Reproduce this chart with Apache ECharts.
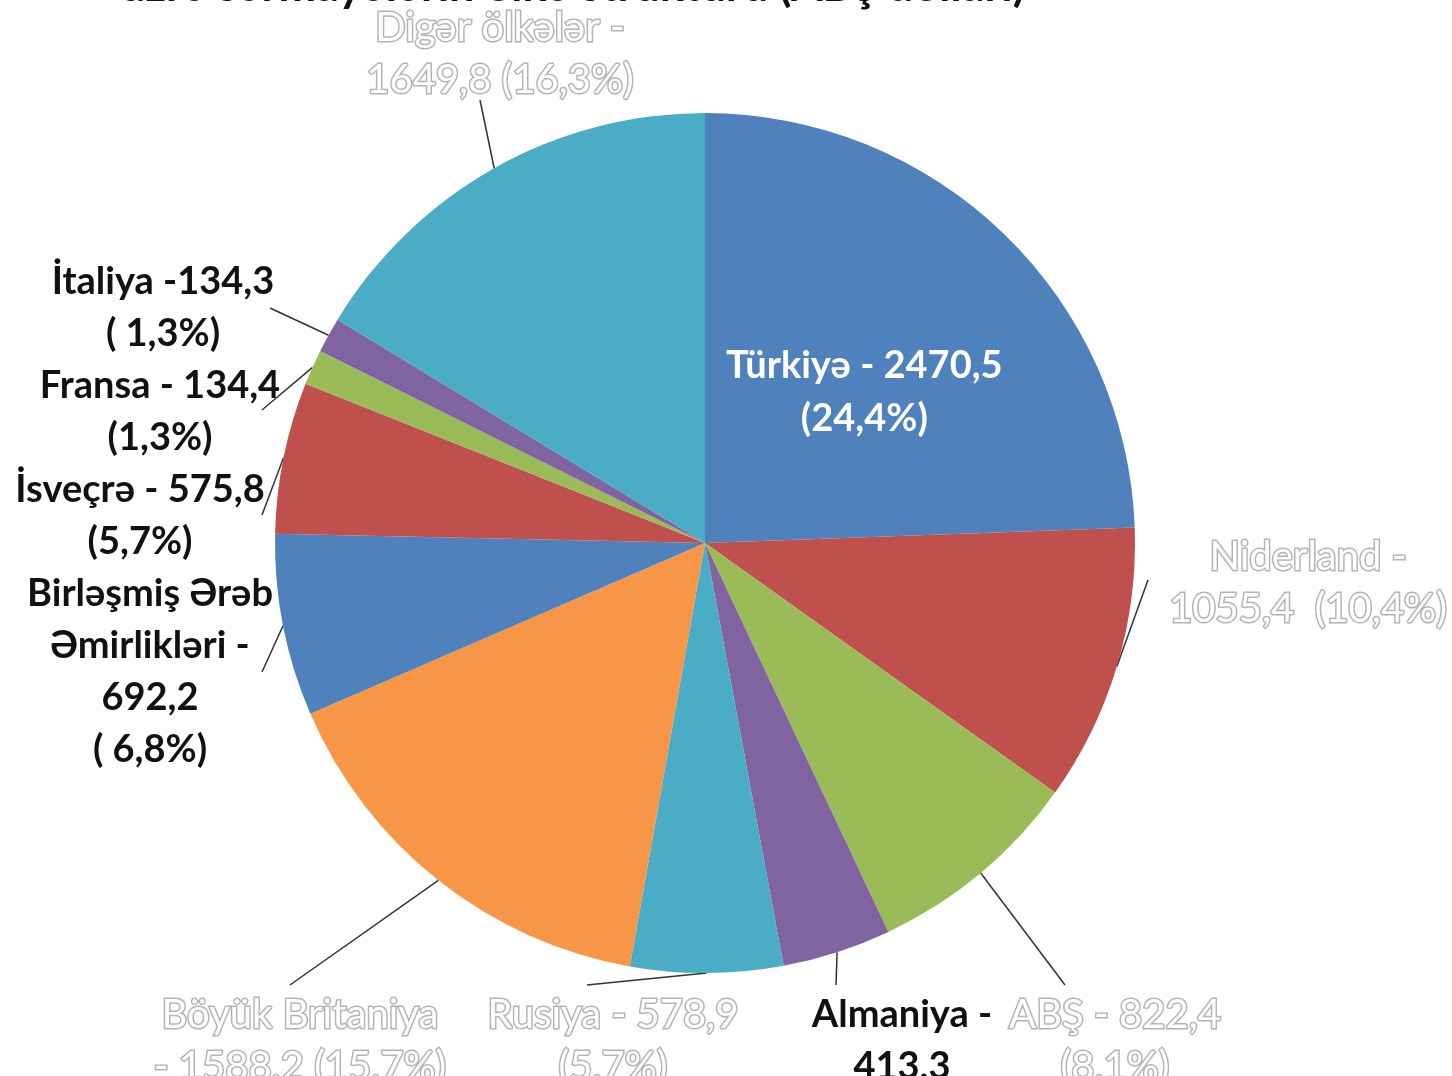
<!DOCTYPE html>
<html><head><meta charset="utf-8">
<script src="https://cdn.jsdelivr.net/npm/echarts@6/dist/echarts.min.js"></script>
<style>html,body{margin:0;padding:0;background:#fff}#c{width:1452px;height:1076px}</style>
</head><body><div id="c"></div>
<script>
const titleText = 'üzrə sərmayələrin ölkə strukturu (ABŞ dolları)';
const countries = ['Türkiyə','Niderland','ABŞ','Almaniya','Rusiya','Böyük Britaniya','Birləşmiş Ərəb Əmirlikləri','İsveçrə','Fransa','İtaliya','Digər ölkələr'];
const values = [2470.5, 1055.4, 822.4, 413.3, 578.9, 1588.2, 692.2, 575.8, 134.4, 134.3, 1649.8];
const labelTexts = [
  'Türkiyə - 2470,5\n(24,4%)',
  'Niderland -\n1055,4  (10,4%)',
  'ABŞ - 822,4\n(8,1%)',
  'Almaniya -\n413,3\n(4,1%)',
  'Rusiya - 578,9\n(5,7%)',
  'Böyük Britaniya\n- 1588,2 (15,7%)',
  'Birləşmiş Ərəb\nƏmirlikləri -\n692,2\n( 6,8%)',
  'İsveçrə - 575,8\n(5,7%)',
  'Fransa - 134,4\n(1,3%)',
  'İtaliya -134,3\n( 1,3%)',
  'Digər ölkələr -\n1649,8 (16,3%)'
];
const labelStyleKind = ['inside','hollow','hollow','bold','hollow','hollow','bold','bold','bold','bold','hollow'];
const colors = ['#4F81BD','#C0504D','#9BBB59','#8064A2','#4BACC6','#F79646','#4F81BD','#C0504D','#9BBB59','#8064A2','#4BACC6'];

// label anchor (center x, top y) and leader-line end points
const labelPos = [null,[1308,531],[1115,989],[902,989],[613,989],[300,989],[150,568],[140,464],[160,360],[163,256],[500,2]];
const lineEnds = [null,[1148,580],[1065,985],[836,985],[587,985],[290,985],[262,672],[262,515],[262,410],[270,308],[480,100]];

const FONT = 'Lato, "Open Sans", sans-serif';
const styles = {
  inside: {color:'#fff', fontWeight:'bold', fontSize:38, lineHeight:53, fontFamily:FONT, position:'inside', offset:[8,6]},
  bold: {color:'#111', fontWeight:'bold', fontSize:38, lineHeight:52, fontFamily:FONT},
  hollow: {color:'#fff', fontWeight:'normal', fontSize:40, lineHeight:52, fontFamily:FONT, textBorderColor:'#b4b4b4', textBorderWidth:3}
};

const data = countries.map((n,i)=>({
  name:n, value:values[i],
  itemStyle:{color:colors[i]},
  label: Object.assign({formatter: labelTexts[i], overflow:'none', width:null}, styles[labelStyleKind[i]]),
  labelLine:{show: i!==0}
}));

const chart = echarts.init(document.getElementById('c'));
chart.setOption({
  backgroundColor:'#fff',
  animation:false,
  graphic:[{type:'text', left:120, top:-36, style:{text:titleText, font:'bold 45px '+FONT, fill:'#111'}}],
  series:[{
    type:'pie', startAngle:90, clockwise:true,
    center:[705,543], radius:430,
    data:data,
    label:{show:true, position:'outside', align:'center', overflow:'none', edgeDistance:0, bleedMargin:0},
    labelLine:{show:true, length:20, length2:10, lineStyle:{color:'#333', width:1.5}},
    labelLayout:function(p){
      const i=p.dataIndex;
      if(!labelPos[i]) return {};
      const start = p.labelLinePoints ? p.labelLinePoints[0] : null;
      const r = {x:labelPos[i][0], y:labelPos[i][1], align:'center', verticalAlign:'top'};
      if(start) r.labelLinePoints=[start, lineEnds[i], lineEnds[i]];
      return r;
    }
  }]
});
</script></body></html>
